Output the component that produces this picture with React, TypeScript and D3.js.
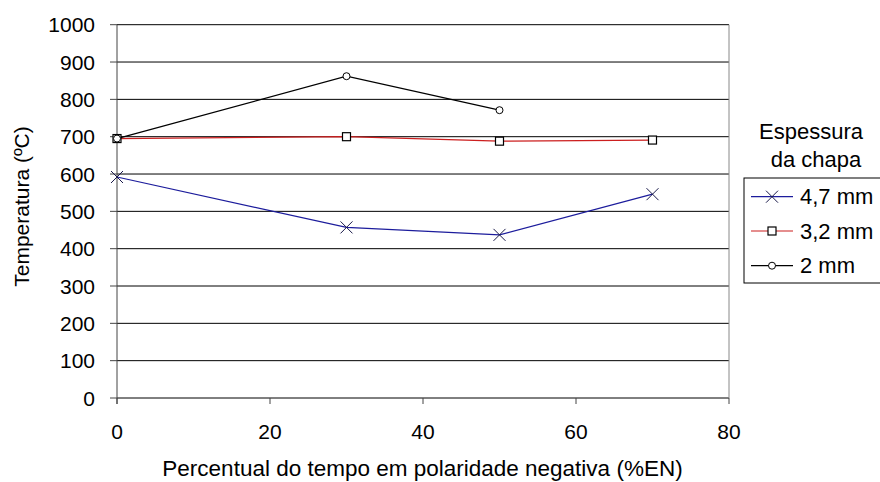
import React from "react";
import * as d3 from "d3";

const xValues = [0, 30, 50, 70];
const seriesNames = ["4,7 mm", "3,2 mm", "2 mm"];
const s47 = [592, 457, 437, 546];
const s32 = [695, 700, 688, 691];
const s2 = [695, 862, 771];
const xTicks = [0, 20, 40, 60, 80];
const yTicks = [0, 100, 200, 300, 400, 500, 600, 700, 800, 900, 1000];
const colors = ["#1c1c9c", "#cc1f1f", "#000000"];
const markers = ["x", "square", "circle"];

const W = 880, H = 482;
const L = 117, R = 729, T = 24.7, B = 398;

function Marker({ type, cx, cy }: { type: string; cx: number; cy: number }) {
  if (type === "x") {
    const s = 6;
    return (
      <g stroke="#1a1a4a" strokeWidth={1}>
        <line x1={cx - s} y1={cy - s} x2={cx + s} y2={cy + s} />
        <line x1={cx - s} y1={cy + s} x2={cx + s} y2={cy - s} />
      </g>
    );
  }
  if (type === "square") {
    const s = 4;
    return <rect x={cx - s} y={cy - s} width={2 * s} height={2 * s} fill="white" stroke="#000" strokeWidth={1.2} />;
  }
  return <circle cx={cx} cy={cy} r={3.5} fill="white" stroke="#000" strokeWidth={1} />;
}

export default function App() {
  const x = d3.scaleLinear().domain([0, 80]).range([L, R]);
  const y = d3.scaleLinear().domain([0, 1000]).range([B, T]);
  const data = [s47, s32, s2];
  const line = d3.line<[number, number]>().x(d => x(d[0])).y(d => y(d[1]));
  const font = "Arial, 'Liberation Sans', sans-serif";
  const legY = [196.7, 231, 265.7];
  return (
    <svg width={W} height={H} style={{ position: "absolute", left: 0, top: 0 }} fontFamily={font}>
      <rect x={0} y={0} width={W} height={H} fill="white" />
      {yTicks.map(t => (
        <line key={"g" + t} x1={L} x2={R} y1={y(t)} y2={y(t)} stroke="#000" strokeWidth={1} />
      ))}
      <line x1={R} x2={R} y1={T} y2={B} stroke="#888" strokeWidth={1} />
      <line x1={L} x2={L} y1={T} y2={B + 6} stroke="#444" strokeWidth={1} />
      {yTicks.map(t => (
        <g key={"yt" + t}>
          <line x1={L - 7} x2={L} y1={y(t)} y2={y(t)} stroke="#444" />
          <text x={95} y={y(t) + 7.5} textAnchor="end" fontSize={21} fill="#000">{t}</text>
        </g>
      ))}
      {xTicks.map(t => (
        <g key={"xt" + t}>
          <line x1={x(t)} x2={x(t)} y1={B} y2={B + 6} stroke="#444" />
          <text x={x(t)} y={439} textAnchor="middle" fontSize={21} fill="#000">{t}</text>
        </g>
      ))}
      {data.map((vals, i) => {
        const pts = vals.map((v, j) => [xValues[j], v] as [number, number]);
        return (
          <g key={"s" + i}>
            <path d={line(pts) || ""} fill="none" stroke={colors[i]} strokeWidth={1.2} />
            {pts.map((p, j) => (
              <Marker key={j} type={markers[i]} cx={x(p[0])} cy={y(p[1])} />
            ))}
          </g>
        );
      })}
      <text transform={`translate(28.5, 206.5) rotate(-90)`} textAnchor="middle" fontSize={21} fill="#000">Temperatura (ºC)</text>
      <text x={422.5} y={475.5} textAnchor="middle" fontSize={22.5} fill="#000">Percentual do tempo em polaridade negativa (%EN)</text>
      <text x={811} y={138.5} textAnchor="middle" fontSize={22} fill="#000">Espessura</text>
      <text x={816} y={166.5} textAnchor="middle" fontSize={22} fill="#000">da chapa</text>
      <rect x={744} y={178} width={140} height={105} fill="white" stroke="#000" strokeWidth={1} />
      {seriesNames.map((n, i) => (
        <g key={"l" + i}>
          <line x1={751} x2={793} y1={legY[i]} y2={legY[i]} stroke={colors[i]} strokeWidth={1.2} />
          <Marker type={markers[i]} cx={772} cy={legY[i]} />
          <text x={800} y={legY[i] + 7.5} fontSize={22} fill="#000">{n}</text>
        </g>
      ))}
    </svg>
  );
}
